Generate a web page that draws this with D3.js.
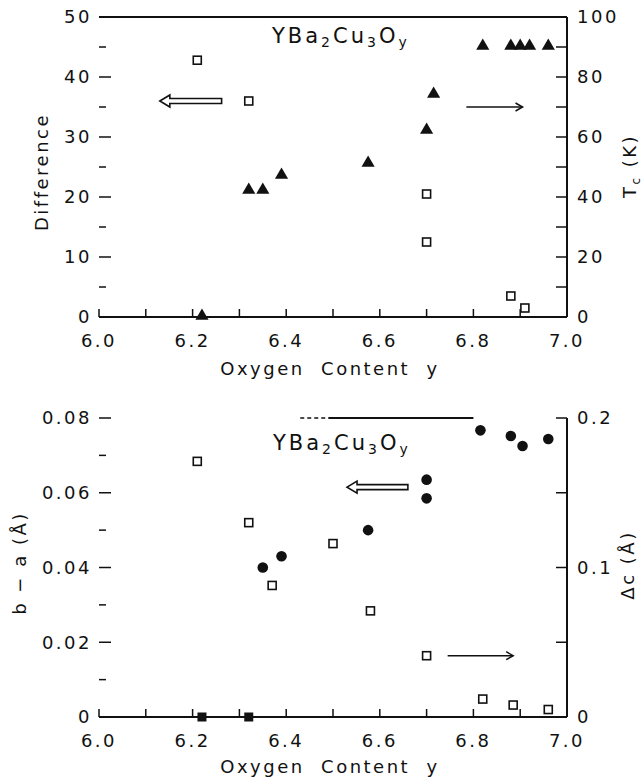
<!DOCTYPE html>
<html>
<head>
<meta charset="utf-8">
<script src="https://cdn.jsdelivr.net/npm/d3@7/dist/d3.min.js"></script>
<style>
  html, body { margin: 0; padding: 0; background: #fff; }
  svg text { font-family: "DejaVu Sans", "Liberation Sans", sans-serif; fill: #111; letter-spacing: 2.5px; }
  svg text.formula { letter-spacing: 3px; }
</style>
</head>
<body>
<svg id="chart" width="644" height="783"></svg>
<script>
// ---- Data: YBa2Cu3Oy vs oxygen content ----
// Upper panel: Tc (K, right axis) and Difference (left axis)
const tcOxygen = [6.22, 6.32, 6.35, 6.39, 6.575, 6.70, 6.715, 6.82, 6.88, 6.90, 6.92, 6.96];
const tcValues = [0, 42, 42, 47, 51, 62, 74, 90, 90, 90, 90, 90];
const diffOxygen = [6.21, 6.32, 6.70, 6.70, 6.88, 6.91];
const diffValues = [42.8, 36, 20.5, 12.5, 3.5, 1.5];

// Lower panel: b - a (Å, left axis) and Δc (Å, right axis)
const baOxygen = [6.22, 6.32, 6.35, 6.39, 6.575, 6.70, 6.70, 6.815, 6.88, 6.905, 6.96];
const baValues = [0, 0, 0.040, 0.043, 0.050, 0.0635, 0.0585, 0.0767, 0.0752, 0.0725, 0.0744];
const dcOxygen = [6.21, 6.32, 6.37, 6.50, 6.58, 6.70, 6.82, 6.885, 6.96];
const dcValues = [0.171, 0.130, 0.088, 0.116, 0.071, 0.041, 0.012, 0.008, 0.005];

// Axis ticks
const xTicks = [6.0, 6.2, 6.4, 6.6, 6.8, 7.0];
const xTickLabels = ["6.0", "6.2", "6.4", "6.6", "6.8", "7.0"];
const diffTicks = [0, 10, 20, 30, 40, 50];
const tcTicks = [0, 20, 40, 60, 80, 100];
const baTicks = [0, 0.02, 0.04, 0.06, 0.08];
const baTickLabels = ["0", "0.02", "0.04", "0.06", "0.08"];
const dcTicks = [0, 0.1, 0.2];
const dcTickLabels = ["0", "0.1", "0.2"];

const svg = d3.select("#chart");
const left = 99, right = 567;
const x = d3.scaleLinear().domain([6.0, 7.0]).range([left, right]);

const FS = 18;   // label font size
const SUB = 12;  // subscript font size

function xAxisBottom(g, y0) {
  g.append("line").attr("x1", left).attr("x2", right).attr("y1", y0).attr("y2", y0)
    .attr("stroke", "#111").attr("stroke-width", 2);
  d3.range(0, 11).forEach(i => {
    const v = 6.0 + i * 0.1;
    g.append("line").attr("x1", x(v)).attr("x2", x(v))
      .attr("y1", y0).attr("y2", y0 - 8)
      .attr("stroke", "#111").attr("stroke-width", 1.5);
  });
  xTicks.forEach((v, i) => {
    g.append("text").attr("x", x(v)).attr("y", y0 + 30)
      .attr("text-anchor", "middle").attr("font-size", FS).text(xTickLabels[i]);
  });
}

function leftTicks(g, scale, majors, labels, minorStep) {
  const [d0, d1] = scale.domain();
  const n = Math.round((d1 - d0) / minorStep);
  d3.range(0, n + 1).forEach(i => {
    const v = d0 + i * minorStep;
    const isMajor = i % 2 === 0;
    g.append("line").attr("x1", left).attr("x2", left + (isMajor ? 12 : 7))
      .attr("y1", scale(v)).attr("y2", scale(v))
      .attr("stroke", "#111").attr("stroke-width", 1.5);
  });
  majors.forEach((v, i) => {
    g.append("text").attr("x", left - 7).attr("y", scale(v))
      .attr("dy", "0.36em").attr("text-anchor", "end")
      .attr("font-size", FS).text(labels[i]);
  });
}

function rightAxis(g, scale, majors, labels, step) {
  const [d0, d1] = scale.domain();
  g.append("line").attr("x1", right).attr("x2", right)
    .attr("y1", scale(d0)).attr("y2", scale(d1))
    .attr("stroke", "#111").attr("stroke-width", 2);
  const n = Math.round((d1 - d0) / step);
  d3.range(0, n + 1).forEach(i => {
    const v = d0 + i * step;
    g.append("line").attr("x1", right).attr("x2", right - 11)
      .attr("y1", scale(v)).attr("y2", scale(v))
      .attr("stroke", "#111").attr("stroke-width", 1.5);
  });
  majors.forEach((v, i) => {
    g.append("text").attr("x", right + 10).attr("y", scale(v))
      .attr("dy", "0.36em").attr("text-anchor", "start")
      .attr("font-size", FS).text(labels[i]);
  });
}

function hollowArrowLeft(g, xTail, xTip, y) {
  const bh = 2.5, hh = 6, hl = 10;
  const p = d3.path();
  p.moveTo(xTip, y);
  p.lineTo(xTip + hl, y - hh);
  p.lineTo(xTip + hl, y - bh);
  p.lineTo(xTail, y - bh);
  p.lineTo(xTail, y + bh);
  p.lineTo(xTip + hl, y + bh);
  p.lineTo(xTip + hl, y + hh);
  p.closePath();
  g.append("path").attr("d", p.toString()).attr("fill", "#fff")
    .attr("stroke", "#111").attr("stroke-width", 1.6);
}

function thinArrowRight(g, xTail, xTip, y) {
  g.append("line").attr("x1", xTail).attr("x2", xTip).attr("y1", y).attr("y2", y)
    .attr("stroke", "#111").attr("stroke-width", 1.6);
  g.append("path")
    .attr("d", `M${xTip - 7},${y - 4} L${xTip},${y} L${xTip - 7},${y + 4}`)
    .attr("fill", "none").attr("stroke", "#111").attr("stroke-width", 1.5);
}

function formula(g, xPos, yPos) {
  const t = g.append("text").attr("class", "formula")
    .attr("x", xPos).attr("y", yPos).attr("font-size", 21);
  t.append("tspan").text("YBa");
  t.append("tspan").attr("font-size", 14).attr("dy", 4).text("2");
  t.append("tspan").attr("dy", -4).text("Cu");
  t.append("tspan").attr("font-size", 14).attr("dy", 4).text("3");
  t.append("tspan").attr("dy", -4).text("O");
  t.append("tspan").attr("font-size", 14).attr("dy", 4).text("y");
}

// ================= Upper panel =================
const upper = svg.append("g");
const yDiff = d3.scaleLinear().domain([0, 50]).range([317, 17]);
const yTc = d3.scaleLinear().domain([0, 100]).range([317, 17]);

upper.append("line").attr("x1", left).attr("x2", right).attr("y1", 17).attr("y2", 17)
  .attr("stroke", "#111").attr("stroke-width", 2);
xAxisBottom(upper, 317);
leftTicks(upper, yDiff, diffTicks, diffTicks.map(String), 5);
rightAxis(upper, yTc, tcTicks, tcTicks.map(String), 10);

// Tc: filled triangles
const tri = d3.symbol().type(d3.symbolTriangle).size(75);
upper.selectAll("path.tc").data(tcOxygen.map((o, i) => [o, tcValues[i]]))
  .join("path").attr("class", "tc")
  .attr("transform", d => `translate(${x(d[0])},${yTc(d[1]) - 1})`)
  .attr("d", tri).attr("fill", "#111");

// Difference: open squares
upper.selectAll("rect.diff").data(diffOxygen.map((o, i) => [o, diffValues[i]]))
  .join("rect").attr("class", "diff")
  .attr("x", d => x(d[0]) - 4).attr("y", d => yDiff(d[1]) - 4)
  .attr("width", 8).attr("height", 8)
  .attr("fill", "#fff").attr("stroke", "#111").attr("stroke-width", 1.6);

hollowArrowLeft(upper, x(6.262), x(6.13), yDiff(36));
thinArrowRight(upper, x(6.785), x(6.905), yTc(70));
formula(upper, 272, 43);

upper.append("text").attr("transform", `translate(48,172) rotate(-90)`)
  .attr("text-anchor", "middle").attr("font-size", FS).text("Difference");
const tcLab = upper.append("text").attr("transform", `translate(636,166) rotate(-90)`)
  .attr("text-anchor", "middle").attr("font-size", FS);
tcLab.append("tspan").text("T");
tcLab.append("tspan").attr("font-size", SUB).attr("dy", 4).text("c");
tcLab.append("tspan").attr("dy", -4).text(" (K)");
upper.append("text").attr("x", 330).attr("y", 375).attr("text-anchor", "middle")
  .attr("font-size", FS).attr("xml:space", "preserve").text("Oxygen  Content  y");

// ================= Lower panel =================
const lower = svg.append("g");
const yBA = d3.scaleLinear().domain([0, 0.08]).range([717, 418]);
const yDC = d3.scaleLinear().domain([0, 0.2]).range([717, 418]);

// top frame: only partly printed
lower.append("line").attr("x1", x(6.43)).attr("x2", x(6.49)).attr("y1", 418).attr("y2", 418)
  .attr("stroke", "#111").attr("stroke-width", 1.5).attr("stroke-dasharray", "4,3");
lower.append("line").attr("x1", x(6.49)).attr("x2", x(6.80)).attr("y1", 418).attr("y2", 418)
  .attr("stroke", "#111").attr("stroke-width", 2);
xAxisBottom(lower, 717);
leftTicks(lower, yBA, baTicks, baTickLabels, 0.01);
rightAxis(lower, yDC, dcTicks, dcTickLabels, 0.05);

// Δc: open squares
lower.selectAll("rect.dc").data(dcOxygen.map((o, i) => [o, dcValues[i]]))
  .join("rect").attr("class", "dc")
  .attr("x", d => x(d[0]) - 4).attr("y", d => yDC(d[1]) - 4)
  .attr("width", 8).attr("height", 8)
  .attr("fill", "#fff").attr("stroke", "#111").attr("stroke-width", 1.6);

// b - a: filled circles, filled squares where the splitting vanishes
const baPts = baOxygen.map((o, i) => [o, baValues[i]]);
lower.selectAll("rect.ba0").data(baPts.filter(d => d[1] === 0))
  .join("rect").attr("class", "ba0")
  .attr("x", d => x(d[0]) - 4.5).attr("y", d => yBA(d[1]) - 4.5)
  .attr("width", 9).attr("height", 9).attr("fill", "#111");
lower.selectAll("circle.ba").data(baPts.filter(d => d[1] > 0))
  .join("circle").attr("class", "ba")
  .attr("cx", d => x(d[0])).attr("cy", d => yBA(d[1]))
  .attr("r", 5.3).attr("fill", "#111");

hollowArrowLeft(lower, x(6.66), x(6.53), yBA(0.0615));
thinArrowRight(lower, x(6.745), x(6.885), yDC(0.041));
formula(lower, 273, 450);

lower.append("text").attr("transform", `translate(26,563) rotate(-90)`)
  .attr("text-anchor", "middle").attr("font-size", FS).text("b − a (Å)");
lower.append("text").attr("transform", `translate(634,565) rotate(-90)`)
  .attr("text-anchor", "middle").attr("font-size", FS).text("Δc (Å)");
lower.append("text").attr("x", 330).attr("y", 773).attr("text-anchor", "middle")
  .attr("font-size", FS).attr("xml:space", "preserve").text("Oxygen  Content  y");
</script>
</body>
</html>
